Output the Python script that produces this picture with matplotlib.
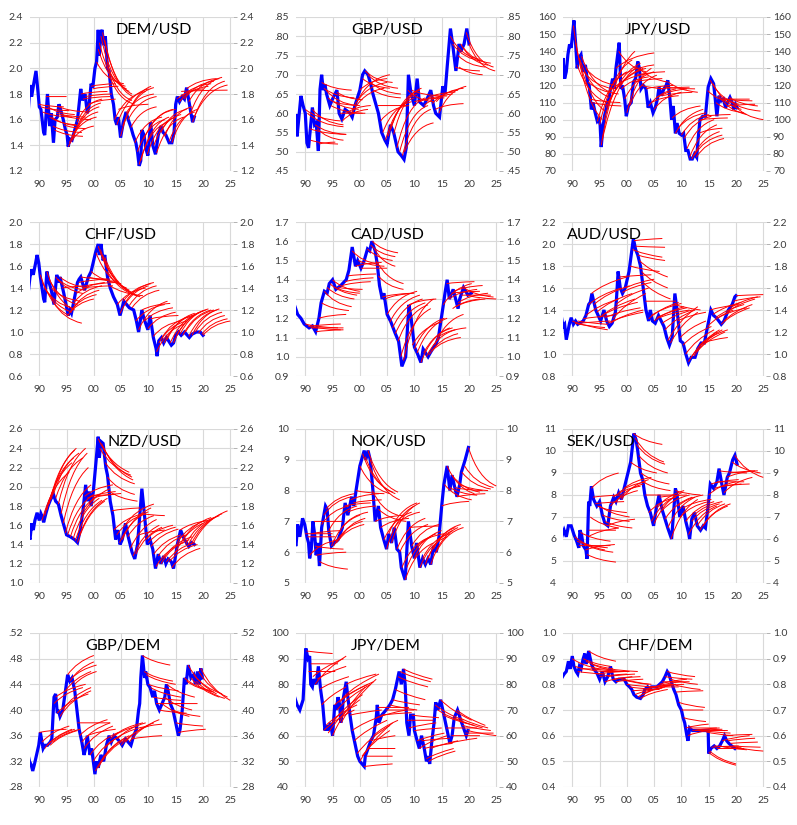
import numpy as np
import matplotlib.pyplot as plt
from matplotlib.path import Path
from matplotlib.patches import PathPatch

plt.rcParams['font.family'] = ['Lato', 'DejaVu Sans']

# ---- spot rates: (year, value) ----
dem_usd_spot = [(1988.0, 1.68), (1988.3, 1.87), (1988.6, 1.78), (1988.9, 1.86), (1989.4, 1.98), (1989.8, 1.80),
                (1990.0, 1.70), (1990.3, 1.68), (1990.8, 1.50), (1991.0, 1.48), (1991.5, 1.80), (1991.9, 1.55),
                (1992.2, 1.65), (1992.6, 1.42), (1992.9, 1.60), (1993.3, 1.62), (1993.6, 1.72), (1993.9, 1.68),
                (1994.4, 1.60), (1994.8, 1.52), (1995.1, 1.48), (1995.3, 1.39), (1995.6, 1.45), (1996.0, 1.44),
                (1996.5, 1.52), (1997.0, 1.60), (1997.6, 1.84), (1997.9, 1.75), (1998.4, 1.80), (1998.8, 1.65),
                (1999.1, 1.70), (1999.5, 1.88), (1999.8, 1.85), (2000.2, 2.00), (2000.5, 2.05), (2000.8, 2.30),
                (2001.0, 2.10), (2001.3, 2.28), (2001.5, 2.30), (2001.8, 2.18), (2002.1, 2.25), (2002.5, 2.00),
                (2002.8, 1.98), (2003.2, 1.80), (2003.6, 1.72), (2003.9, 1.60), (2004.2, 1.56), (2004.5, 1.62),
                (2004.9, 1.46), (2005.4, 1.58), (2005.9, 1.66), (2006.3, 1.60), (2006.8, 1.54), (2007.2, 1.48),
                (2007.7, 1.42), (2008.0, 1.35), (2008.3, 1.24), (2008.6, 1.28), (2008.8, 1.52), (2009.2, 1.48),
                (2009.5, 1.38), (2009.9, 1.32), (2010.4, 1.58), (2010.8, 1.40), (2011.3, 1.33), (2011.8, 1.48),
                (2012.3, 1.55), (2012.7, 1.50), (2013.2, 1.48), (2013.8, 1.42), (2014.3, 1.42), (2014.7, 1.50),
                (2015.0, 1.72), (2015.3, 1.78), (2015.7, 1.74), (2016.2, 1.78), (2016.6, 1.76), (2017.0, 1.85),
                (2017.4, 1.75), (2017.8, 1.65), (2018.1, 1.58), (2018.4, 1.62)]

gbp_usd_spot = [(1988.0, .558), (1988.3, .597), (1988.5, .540), (1989.2, .645), (1989.6, .620), (1990.0, .600),
                (1990.3, .523), (1990.6, .510), (1991.3, .615), (1991.7, .570), (1992.0, .575), (1992.4, .502),
                (1992.7, .662), (1993.0, .700), (1993.3, .660), (1993.6, .675), (1993.9, .650), (1994.5, .620),
                (1995.1, .640), (1995.8, .660), (1996.2, .600), (1996.7, .585), (1997.3, .610), (1998.2, .600),
                (1998.6, .590), (1999.1, .620), (2000.0, .660), (2000.5, .700), (2000.9, .710), (2001.5, .700),
                (2002.0, .675), (2002.4, .650), (2003.0, .620), (2003.4, .600), (2004.0, .550), (2004.6, .530),
                (2005.0, .520), (2005.6, .570), (2006.2, .550), (2007.0, .500), (2007.6, .490), (2008.1, .480),
                (2008.5, .510), (2008.9, .700), (2009.4, .650), (2010.0, .620), (2010.5, .690), (2010.9, .630),
                (2011.7, .620), (2012.4, .640), (2013.0, .660), (2013.5, .620), (2013.9, .600), (2014.6, .590),
                (2015.2, .670), (2015.6, .650), (2016.0, .720), (2016.6, .820), (2017.0, .780), (2017.6, .710),
                (2018.2, .780), (2018.5, .760), (2019.1, .780), (2019.6, .820), (2020.0, .780)]

jpy_usd_spot = [(1988.0, 125), (1988.3, 136), (1988.6, 124), (1988.9, 128), (1989.2, 138), (1989.5, 144),
                (1989.8, 142), (1990.0, 148), (1990.3, 158), (1990.6, 145), (1990.9, 130), (1991.2, 136),
                (1991.6, 138), (1992.0, 128), (1992.4, 132), (1992.8, 122), (1993.1, 120), (1993.5, 106),
                (1993.8, 110), (1994.2, 104), (1994.6, 99), (1994.9, 100), (1995.1, 97), (1995.3, 84),
                (1995.6, 95), (1995.9, 102), (1996.3, 108), (1996.7, 112), (1997.0, 118), (1997.4, 124),
                (1997.7, 118), (1998.0, 130), (1998.4, 140), (1998.6, 145), (1998.9, 118), (1999.2, 120),
                (1999.6, 112), (1999.9, 102), (2000.3, 108), (2000.8, 110), (2001.2, 122), (2001.6, 124),
                (2002.0, 134), (2002.3, 130), (2002.6, 118), (2003.0, 120), (2003.5, 118), (2003.9, 107),
                (2004.3, 110), (2004.8, 104), (2005.2, 107), (2005.6, 112), (2005.9, 119), (2006.3, 114),
                (2006.8, 118), (2007.2, 120), (2007.5, 123), (2007.9, 112), (2008.2, 100), (2008.5, 108),
                (2008.9, 92), (2009.2, 98), (2009.6, 92), (2010.0, 91), (2010.4, 92), (2010.8, 82),
                (2011.2, 82), (2011.6, 77), (2012.0, 77), (2012.4, 80), (2012.8, 78), (2013.1, 90),
                (2013.4, 100), (2013.9, 102), (2014.4, 102), (2014.9, 119), (2015.4, 124), (2015.9, 121),
                (2016.2, 112), (2016.5, 102), (2016.9, 114), (2017.3, 111), (2017.7, 112), (2018.1, 107),
                (2018.6, 111), (2018.9, 113), (2019.3, 110), (2019.6, 106), (2019.9, 109), (2020.2, 107)]

chf_usd_spot = [(1988.0, 1.37), (1988.3, 1.50), (1988.6, 1.57), (1988.9, 1.52), (1989.3, 1.62), (1989.6, 1.70),
                (1989.9, 1.63), (1990.2, 1.50), (1990.8, 1.30), (1991.0, 1.27), (1991.4, 1.55), (1991.8, 1.45),
                (1992.2, 1.38), (1992.7, 1.25), (1993.2, 1.52), (1993.5, 1.45), (1993.8, 1.50), (1994.5, 1.35),
                (1995.3, 1.15), (1995.6, 1.20), (1995.9, 1.17), (1996.3, 1.27), (1997.0, 1.45), (1997.3, 1.48),
                (1997.6, 1.50), (1998.3, 1.38), (1999.0, 1.50), (1999.5, 1.55), (2000.3, 1.72), (2000.8, 1.80),
                (2001.0, 1.70), (2001.3, 1.80), (2001.7, 1.65), (2002.0, 1.70), (2002.5, 1.50), (2003.0, 1.40),
                (2003.6, 1.32), (2004.3, 1.25), (2004.8, 1.15), (2005.5, 1.28), (2006.0, 1.25), (2006.5, 1.22),
                (2007.3, 1.20), (2007.8, 1.10), (2008.2, 1.00), (2008.8, 1.20), (2009.2, 1.12), (2009.9, 1.02),
                (2010.3, 1.15), (2010.9, 0.95), (2011.4, 0.85), (2011.6, 0.78), (2011.9, 0.92), (2012.4, 0.95),
                (2012.8, 0.90), (2013.3, 0.95), (2014.2, 0.88), (2014.6, 0.90), (2015.0, 0.97), (2015.5, 1.00),
                (2016.0, 0.97), (2016.6, 1.00), (2017.5, 0.95), (2018.0, 0.98), (2018.8, 1.00), (2019.5, 1.00),
                (2020.0, 0.97)]

cad_usd_spot = [(1988.0, 1.27), (1988.6, 1.22), (1989.2, 1.20), (1989.8, 1.17), (1990.7, 1.15), (1991.3, 1.16),
                (1991.9, 1.13), (1992.5, 1.20), (1992.9, 1.28), (1993.5, 1.34), (1994.0, 1.33), (1994.4, 1.38),
                (1995.0, 1.40), (1995.6, 1.35), (1996.5, 1.37), (1997.5, 1.40), (1998.0, 1.45), (1998.6, 1.57),
                (1999.2, 1.47), (1999.6, 1.50), (2000.2, 1.46), (2000.8, 1.50), (2001.4, 1.56), (2001.8, 1.55),
                (2002.2, 1.60), (2002.8, 1.55), (2003.2, 1.48), (2003.6, 1.37), (2004.1, 1.30), (2004.4, 1.33),
                (2005.0, 1.22), (2005.7, 1.18), (2006.5, 1.12), (2007.1, 1.08), (2007.7, 0.95), (2008.4, 1.00),
                (2009.0, 1.27), (2009.4, 1.20), (2010.0, 1.05), (2010.5, 1.02), (2011.2, 0.97), (2011.6, 1.04),
                (2012.5, 1.00), (2013.1, 1.03), (2014.0, 1.07), (2014.4, 1.10), (2015.3, 1.27), (2015.6, 1.33),
                (2016.0, 1.40), (2016.4, 1.30), (2017.1, 1.35), (2018.0, 1.25), (2018.3, 1.30), (2019.0, 1.36),
                (2019.8, 1.32), (2020.4, 1.33)]

aud_usd_spot = [(1987.8, 1.40), (1988.3, 1.25), (1988.6, 1.27), (1988.9, 1.13), (1989.5, 1.28), (1989.8, 1.33),
                (1990.2, 1.27), (1990.6, 1.30), (1991.0, 1.27), (1992.0, 1.30), (1992.5, 1.35), (1993.0, 1.45),
                (1993.3, 1.47), (1993.6, 1.55), (1994.3, 1.40), (1995.2, 1.30), (1995.8, 1.40), (1996.3, 1.30),
                (1996.8, 1.25), (1997.3, 1.28), (1997.9, 1.38), (1998.1, 1.50), (1998.4, 1.75), (1998.8, 1.60),
                (1999.2, 1.55), (1999.7, 1.60), (2000.4, 1.75), (2000.8, 1.90), (2001.2, 2.05), (2001.6, 1.95),
                (2002.0, 1.90), (2002.5, 1.80), (2003.0, 1.60), (2003.5, 1.40), (2004.0, 1.30), (2004.3, 1.40),
                (2004.7, 1.30), (2005.2, 1.28), (2005.8, 1.35), (2006.3, 1.30), (2006.8, 1.25), (2007.3, 1.15),
                (2007.8, 1.08), (2008.3, 1.15), (2008.8, 1.55), (2009.2, 1.40), (2009.8, 1.12), (2010.3, 1.10),
                (2010.8, 1.00), (2011.3, 0.92), (2011.8, 0.97), (2012.5, 0.97), (2013.0, 1.05), (2013.6, 1.10),
                (2014.2, 1.10), (2014.8, 1.25), (2015.4, 1.40), (2015.9, 1.35), (2016.4, 1.33), (2017.3, 1.27),
                (2017.8, 1.30), (2018.6, 1.40), (2019.3, 1.45), (2019.8, 1.52), (2020.0, 1.53)]

nzd_usd_spot = [(1988.0, 1.51), (1988.3, 1.45), (1988.6, 1.62), (1988.9, 1.55), (1989.2, 1.65), (1989.6, 1.73),
                (1990.0, 1.65), (1990.3, 1.72), (1990.6, 1.68), (1990.8, 1.63), (1991.2, 1.72), (1991.6, 1.80),
                (1992.1, 1.87), (1992.6, 1.92), (1993.0, 1.85), (1993.5, 1.82), (1994.0, 1.70), (1994.5, 1.60),
                (1995.0, 1.50), (1995.7, 1.48), (1996.5, 1.45), (1997.0, 1.42), (1997.5, 1.55), (1998.0, 1.75),
                (1998.5, 2.02), (1998.8, 1.85), (1999.2, 1.95), (1999.5, 1.80), (1999.9, 1.95), (2000.3, 2.20),
                (2000.8, 2.52), (2001.0, 2.30), (2001.3, 2.47), (2001.7, 2.45), (2002.2, 2.20), (2002.5, 2.12),
                (2003.0, 1.85), (2003.5, 1.70), (2004.0, 1.45), (2004.4, 1.55), (2004.8, 1.40), (2005.2, 1.45),
                (2005.8, 1.62), (2006.3, 1.48), (2007.0, 1.32), (2007.5, 1.25), (2008.0, 1.40), (2008.8, 1.98),
                (2009.2, 1.75), (2009.8, 1.40), (2010.3, 1.45), (2010.8, 1.35), (2011.3, 1.15), (2011.8, 1.30),
                (2012.3, 1.20), (2012.8, 1.28), (2013.2, 1.20), (2013.6, 1.25), (2014.2, 1.22), (2014.6, 1.15),
                (2015.3, 1.40), (2015.9, 1.55), (2016.6, 1.45), (2017.4, 1.38), (2017.9, 1.42), (2018.4, 1.40)]

nok_usd_spot = [(1988.0, 6.3), (1988.3, 6.2), (1988.6, 6.9), (1989.0, 6.5), (1989.5, 7.1), (1989.9, 6.9),
                (1990.3, 6.5), (1990.6, 6.3), (1990.8, 5.8), (1991.1, 6.1), (1991.4, 7.0), (1991.7, 6.6),
                (1992.0, 5.9), (1992.3, 6.3), (1992.6, 5.55), (1993.0, 6.8), (1993.7, 7.5), (1994.0, 7.4),
                (1994.3, 6.7), (1994.8, 6.2), (1995.3, 6.3), (1996.0, 6.4), (1996.8, 6.8), (1997.3, 7.6),
                (1997.8, 7.2), (1998.5, 7.8), (1998.9, 7.5), (1999.3, 8.0), (2000.0, 8.8), (2000.8, 9.3),
                (2001.1, 9.0), (2001.5, 9.3), (2001.9, 9.0), (2002.4, 8.0), (2002.8, 7.0), (2003.4, 7.5),
                (2003.8, 6.8), (2004.4, 6.4), (2004.9, 6.1), (2005.3, 6.6), (2005.8, 6.3), (2006.3, 6.8),
                (2006.8, 6.1), (2007.3, 6.0), (2007.6, 5.5), (2008.3, 5.1), (2008.5, 5.7), (2008.9, 7.0),
                (2009.5, 6.2), (2010.0, 5.8), (2010.4, 6.3), (2011.0, 5.5), (2011.5, 5.8), (2012.0, 5.6),
                (2012.5, 5.8), (2013.0, 5.6), (2013.5, 6.2), (2014.0, 6.0), (2014.5, 6.5), (2015.0, 7.5),
                (2015.4, 8.2), (2016.0, 8.8), (2016.5, 8.0), (2016.9, 8.5), (2017.4, 8.1), (2017.8, 7.8),
                (2018.3, 8.2), (2018.6, 8.6), (2019.3, 9.0), (2019.9, 9.4)]

sek_usd_spot = [(1987.8, 5.9), (1988.2, 6.2), (1988.5, 6.4), (1988.9, 6.1), (1989.3, 6.6), (1989.8, 6.6),
                (1990.3, 6.2), (1990.8, 5.9), (1991.2, 5.6), (1991.4, 6.4), (1991.7, 6.2), (1992.0, 5.7),
                (1992.5, 5.5), (1992.7, 5.1), (1993.0, 7.7), (1993.2, 7.5), (1993.5, 8.4), (1993.9, 7.8),
                (1994.5, 7.5), (1995.0, 7.7), (1995.5, 7.1), (1996.0, 6.7), (1996.5, 6.6), (1997.0, 7.5),
                (1997.6, 7.9), (1998.0, 7.7), (1998.5, 8.1), (1999.0, 7.8), (1999.5, 8.3), (2000.0, 8.8),
                (2000.7, 9.5), (2001.3, 10.8), (2001.7, 10.5), (2002.0, 10.0), (2002.5, 9.0), (2002.9, 8.7),
                (2003.3, 8.0), (2003.8, 7.5), (2004.3, 7.2), (2004.9, 6.6), (2005.4, 7.4), (2005.9, 8.0),
                (2006.5, 7.3), (2007.0, 6.9), (2007.5, 6.5), (2008.2, 6.0), (2008.9, 8.3), (2009.2, 8.0),
                (2009.7, 7.0), (2010.3, 7.5), (2010.8, 6.8), (2011.3, 6.3), (2011.5, 6.0), (2011.9, 6.9),
                (2012.4, 7.2), (2012.9, 6.6), (2013.5, 6.4), (2014.0, 6.6), (2014.4, 6.5), (2014.9, 7.5),
                (2015.3, 8.5), (2015.9, 8.3), (2016.5, 8.6), (2016.9, 9.2), (2017.4, 8.5), (2017.8, 8.0),
                (2018.4, 8.8), (2018.8, 9.0), (2019.4, 9.6), (2019.8, 9.8), (2020.2, 9.4)]

gbp_dem_spot = [(1987.8, .336), (1988.2, .320), (1988.5, .315), (1988.8, .305), (1989.1, .315), (1989.5, .330),
                (1989.9, .345), (1990.2, .365), (1990.5, .350), (1990.7, .340), (1991.0, .345), (1991.5, .345),
                (1992.0, .350), (1992.3, .355), (1992.7, .420), (1993.0, .425), (1993.3, .395), (1993.5, .400),
                (1993.8, .390), (1994.3, .400), (1994.8, .430), (1995.2, .455), (1995.6, .445), (1996.0, .450),
                (1996.5, .430), (1996.9, .400), (1997.3, .370), (1997.8, .350), (1998.2, .330), (1998.5, .340),
                (1998.8, .360), (1999.3, .330), (1999.6, .340), (1999.9, .320), (2000.2, .300), (2000.5, .320),
                (2000.8, .310), (2001.3, .330), (2001.8, .320), (2002.3, .345), (2002.8, .360), (2003.2, .350),
                (2003.7, .360), (2004.3, .355), (2004.8, .350), (2005.2, .345), (2005.8, .355), (2006.3, .350),
                (2006.8, .345), (2007.3, .360), (2007.8, .370), (2008.2, .400), (2008.4, .410), (2008.6, .450),
                (2008.9, .485), (2009.3, .450), (2009.5, .460), (2009.9, .440), (2010.3, .435), (2010.8, .420),
                (2011.1, .430), (2011.5, .410), (2012.0, .400), (2012.5, .410), (2013.0, .420), (2013.3, .440),
                (2013.6, .430), (2014.0, .410), (2014.5, .400), (2015.0, .380), (2015.5, .360), (2015.8, .370),
                (2016.2, .400), (2016.6, .450), (2016.9, .440), (2017.3, .470), (2017.8, .450), (2018.3, .455),
                (2018.6, .440), (2019.0, .460), (2019.3, .440), (2019.6, .465), (2019.9, .450)]

jpy_dem_spot = [(1987.9, 76), (1988.5, 72), (1989.0, 70), (1989.6, 74), (1990.1, 94), (1990.5, 90), (1990.8, 91),
                (1991.0, 80), (1991.3, 79), (1991.5, 82), (1992.0, 80), (1992.4, 87), (1992.8, 78), (1993.2, 72),
                (1993.6, 62), (1993.9, 64), (1994.2, 62), (1994.6, 65), (1995.0, 60), (1995.4, 72), (1995.7, 70),
                (1996.0, 75), (1996.3, 72), (1996.5, 65), (1996.8, 70), (1997.0, 75), (1997.5, 81), (1997.8, 75),
                (1998.2, 68), (1998.6, 62), (1999.0, 58), (1999.6, 52), (2000.0, 50), (2000.8, 48), (2001.0, 52),
                (2001.5, 55), (2002.0, 58), (2002.5, 60), (2003.0, 67), (2003.2, 72), (2003.5, 65), (2004.0, 68),
                (2004.8, 70), (2005.5, 72), (2006.0, 74), (2006.5, 78), (2007.2, 85), (2007.6, 80), (2008.0, 86),
                (2008.3, 80), (2008.6, 65), (2009.0, 60), (2009.3, 68), (2009.8, 68), (2010.0, 62), (2010.5, 58),
                (2010.9, 55), (2011.3, 60), (2011.8, 55), (2012.2, 50), (2012.5, 52), (2012.8, 49), (2013.2, 58),
                (2013.6, 65), (2013.9, 73), (2014.3, 70), (2014.8, 74), (2015.4, 68), (2016.0, 62), (2016.5, 57),
                (2016.9, 60), (2017.3, 67), (2017.9, 70), (2018.5, 66), (2019.0, 63), (2019.5, 60), (2019.8, 62)]

chf_dem_spot = [(1987.8, .815), (1988.5, .840), (1988.9, .850), (1989.3, .890), (1989.6, .860), (1990.0, .910),
                (1990.3, .870), (1990.7, .850), (1991.0, .840), (1991.3, .870), (1991.6, .860), (1992.0, .900),
                (1992.3, .920), (1992.5, .880), (1992.7, .890), (1993.0, .930), (1993.5, .880), (1993.9, .860),
                (1994.3, .850), (1994.6, .840), (1995.0, .820), (1995.5, .850), (1996.0, .810), (1996.5, .830),
                (1997.0, .870), (1997.5, .820), (1998.0, .810), (1998.5, .820), (1999.0, .820), (1999.5, .820),
                (2000.0, .800), (2000.5, .790), (2000.9, .780), (2001.3, .760), (2001.8, .750), (2002.5, .745),
                (2003.0, .760), (2003.3, .780), (2003.8, .790), (2004.1, .780), (2004.5, .790), (2005.0, .790),
                (2005.5, .790), (2006.0, .800), (2006.5, .810), (2007.0, .830), (2007.4, .850), (2007.7, .840),
                (2008.0, .820), (2008.3, .800), (2008.6, .780), (2009.0, .760), (2009.5, .720), (2010.0, .700),
                (2010.3, .670), (2010.6, .650), (2011.0, .600), (2011.2, .580), (2011.5, .630), (2012.0, .620),
                (2013.0, .620), (2014.0, .620), (2014.9, .620), (2015.0, .530), (2015.4, .550), (2016.0, .560),
                (2016.5, .550), (2017.0, .560), (2017.5, .580), (2017.9, .600), (2018.3, .580), (2018.7, .570),
                (2019.2, .560), (2019.8, .550)]

# ---- forward paths: (start year, start value, end year, end value) ----
dem_usd_fwd = [(1989.9, 1.72, 1994.5, 1.70), (1990.3, 1.70, 1995.5, 1.67), (1990.6, 1.66, 1996.0, 1.62),
               (1991.2, 1.78, 1995.0, 1.78), (1991.6, 1.70, 1996.5, 1.64), (1991.9, 1.62, 1996.8, 1.56),
               (1992.3, 1.62, 1997.5, 1.55), (1992.5, 1.55, 1997.8, 1.50), (1992.8, 1.52, 1998.0, 1.47),
               (1993.2, 1.65, 1998.5, 1.62), (1993.6, 1.70, 1999.0, 1.66), (1994.0, 1.64, 1999.5, 1.60),
               (1994.5, 1.56, 1998.5, 1.53), (1995.3, 1.39, 2000.0, 1.55), (1995.5, 1.42, 2000.5, 1.62),
               (1995.8, 1.44, 2000.8, 1.66), (1996.1, 1.45, 2001.0, 1.70), (1996.5, 1.50, 2001.3, 1.73),
               (1996.9, 1.58, 2001.5, 1.76), (1997.6, 1.80, 2002.5, 1.82), (1998.0, 1.76, 2003.0, 1.78),
               (1998.5, 1.78, 2003.3, 1.80), (1999.0, 1.72, 2004.0, 1.76), (1999.5, 1.86, 2004.0, 1.88),
               (1999.8, 1.84, 2004.5, 1.86), (2000.5, 2.05, 2005.5, 1.88), (2000.8, 2.15, 2005.8, 1.86),
               (2001.0, 2.20, 2006.0, 1.84), (2001.3, 2.25, 2006.5, 1.82), (2001.6, 2.28, 2007.0, 1.80),
               (2002.0, 2.22, 2007.2, 1.78), (2002.4, 2.05, 2007.0, 1.75), (2002.8, 1.95, 2007.5, 1.72),
               (2003.8, 1.60, 2009.5, 1.82), (2004.2, 1.56, 2010.0, 1.84), (2004.9, 1.47, 2010.5, 1.86),
               (2005.3, 1.55, 2011.0, 1.85), (2005.9, 1.65, 2011.0, 1.80), (2006.3, 1.60, 2011.5, 1.78),
               (2004.5, 1.68, 2010.0, 1.72), (2006.8, 1.54, 2011.5, 1.70), (2007.5, 1.42, 2012.5, 1.62),
               (2008.0, 1.35, 2013.0, 1.60), (2008.3, 1.25, 2013.5, 1.58), (2008.6, 1.28, 2013.8, 1.62),
               (2009.2, 1.45, 2014.5, 1.68), (2009.8, 1.33, 2015.0, 1.62), (2010.4, 1.55, 2015.0, 1.68),
               (2011.0, 1.40, 2016.0, 1.64), (2011.5, 1.34, 2016.5, 1.62), (2012.3, 1.50, 2017.0, 1.68),
               (2013.0, 1.47, 2018.0, 1.70), (2013.8, 1.43, 2018.5, 1.66), (2014.3, 1.42, 2019.0, 1.68),
               (2015.2, 1.76, 2020.0, 1.84), (2015.7, 1.74, 2021.0, 1.86), (2016.2, 1.78, 2021.5, 1.88),
               (2016.6, 1.76, 2022.0, 1.90), (2017.0, 1.84, 2022.5, 1.92), (2017.4, 1.74, 2023.0, 1.92),
               (2017.8, 1.66, 2023.5, 1.93), (2018.1, 1.58, 2024.0, 1.90), (2018.4, 1.62, 2024.5, 1.87),
               (2016.0, 1.82, 2024.5, 1.83)]

gbp_usd_fwd = [(1990.0, .61, 1996.5, .58), (1990.4, .60, 1997.0, .565), (1990.8, .56, 1997.5, .545),
               (1991.0, .53, 1996.0, .52), (1991.3, .61, 1997.0, .57), (1991.8, .57, 1997.5, .545),
               (1992.2, .56, 1997.0, .53), (1992.5, .52, 1995.5, .525), (1993.0, .68, 1998.5, .66),
               (1993.4, .665, 1999.0, .64), (1993.8, .66, 1999.5, .62), (1994.2, .64, 1999.8, .61),
               (1994.7, .62, 2000.5, .60), (1995.2, .63, 2000.0, .62), (1995.8, .655, 2000.5, .635),
               (1996.3, .60, 2001.0, .60), (1996.8, .58, 2001.5, .61), (1997.5, .60, 2002.0, .62),
               (1998.5, .60, 2004.5, .665), (1999.0, .62, 2005.0, .68), (1999.5, .63, 2005.5, .70),
               (2000.0, .66, 2005.0, .69), (2000.5, .69, 2005.5, .665), (2001.0, .71, 2006.0, .68),
               (2001.5, .70, 2007.0, .665), (2002.0, .68, 2007.5, .65), (2002.5, .66, 2007.5, .64),
               (2003.3, .62, 2008.5, .62), (2003.8, .58, 2009.0, .62), (2004.2, .55, 2009.5, .63),
               (2004.7, .53, 2010.0, .64), (2005.2, .54, 2010.5, .65), (2005.7, .56, 2011.0, .66),
               (2006.2, .545, 2011.3, .665), (2006.8, .51, 2012.0, .64), (2007.3, .50, 2012.5, .62),
               (2007.8, .49, 2013.0, .61), (2008.2, .50, 2013.5, .575), (2008.8, .66, 2013.5, .63),
               (2009.5, .66, 2015.0, .645), (2010.0, .63, 2015.5, .64), (2011.0, .63, 2016.0, .645),
               (2011.8, .62, 2017.0, .65), (2012.5, .64, 2017.5, .655), (2013.3, .625, 2018.0, .66),
               (2014.0, .63, 2019.0, .665), (2014.5, .60, 2019.5, .67), (2013.8, .61, 2019.0, .625),
               (2016.6, .80, 2022.0, .74), (2017.0, .78, 2022.5, .735), (2017.5, .72, 2022.0, .71),
               (2018.0, .75, 2023.0, .72), (2018.5, .78, 2023.5, .725), (2019.0, .77, 2024.0, .73),
               (2019.5, .81, 2024.5, .72), (2020.0, .78, 2024.8, .71), (2018.2, .72, 2022.5, .70)]

jpy_usd_fwd = [(1990.2, 155, 1995.5, 100), (1990.6, 145, 1996.0, 105), (1990.9, 132, 1996.3, 110),
               (1991.3, 136, 1996.8, 113), (1991.7, 137, 1997.0, 116), (1992.1, 128, 1997.5, 118),
               (1992.5, 130, 1998.0, 120), (1992.9, 122, 1998.5, 115), (1993.3, 112, 1998.8, 110),
               (1993.7, 110, 1999.0, 108), (1994.6, 99, 2000.0, 128), (1995.0, 97, 2001.0, 135),
               (1995.3, 85, 2001.5, 140), (1995.5, 88, 2002.0, 131), (1995.8, 100, 2002.5, 133),
               (1996.2, 107, 2003.0, 130), (1996.6, 110, 2003.5, 130), (1997.0, 117, 2004.0, 127),
               (1997.5, 122, 2005.0, 132), (1998.0, 130, 2005.0, 139), (1998.5, 140, 2003.5, 128),
               (1999.0, 118, 2004.0, 125), (1999.6, 112, 2005.0, 128), (2000.0, 104, 2004.5, 130),
               (2000.5, 108, 2005.5, 126), (2001.3, 122, 2006.5, 124), (2001.8, 126, 2007.0, 128),
               (2002.3, 130, 2007.5, 122), (2002.8, 120, 2007.0, 118), (2003.5, 118, 2008.5, 120),
               (2004.0, 108, 2009.0, 118), (2004.5, 110, 2009.5, 114), (2005.0, 106, 2010.0, 116),
               (2005.6, 113, 2011.0, 118), (2006.0, 118, 2011.5, 119), (2006.5, 114, 2012.0, 116),
               (2007.0, 119, 2012.5, 118), (2007.6, 122, 2013.0, 116), (2008.3, 101, 2013.5, 108),
               (2008.9, 92, 2014.0, 106), (2009.4, 95, 2014.5, 104), (2010.0, 91, 2015.0, 103),
               (2010.5, 89, 2015.5, 102), (2011.0, 83, 2016.0, 100), (2011.5, 78, 2016.5, 97),
               (2011.9, 77, 2017.0, 93), (2012.3, 79, 2017.5, 91), (2012.7, 78, 2017.8, 89),
               (2013.2, 92, 2017.5, 95), (2013.5, 100, 2018.5, 101), (2014.0, 102, 2019.0, 103),
               (2014.8, 117, 2019.5, 110), (2015.3, 123, 2020.5, 109), (2015.8, 121, 2021.0, 106),
               (2016.3, 110, 2021.5, 104), (2016.8, 114, 2022.0, 103), (2017.3, 112, 2022.5, 112),
               (2017.8, 112, 2023.0, 111), (2018.3, 108, 2023.5, 109), (2018.8, 113, 2024.0, 108),
               (2019.3, 110, 2024.5, 105), (2019.8, 108, 2025.0, 100)]

chf_usd_fwd = [(1990.2, 1.52, 1995.5, 1.15), (1990.6, 1.45, 1996.0, 1.18), (1991.0, 1.40, 1996.0, 1.22),
               (1991.4, 1.55, 1996.5, 1.20), (1991.8, 1.48, 1997.0, 1.25), (1992.2, 1.40, 1997.5, 1.28),
               (1992.6, 1.27, 1997.8, 1.08), (1993.0, 1.50, 1998.0, 1.35), (1993.4, 1.48, 1998.5, 1.38),
               (1993.8, 1.50, 1999.0, 1.40), (1994.2, 1.40, 1999.0, 1.42), (1995.2, 1.15, 2000.0, 1.30),
               (1995.6, 1.18, 2000.5, 1.34), (1996.0, 1.20, 2001.0, 1.38), (1996.4, 1.27, 2001.5, 1.42),
               (1996.8, 1.35, 2002.0, 1.45), (1997.2, 1.45, 2002.5, 1.48), (1997.6, 1.50, 2003.0, 1.48),
               (1998.0, 1.40, 2003.5, 1.42), (1998.5, 1.42, 2004.0, 1.45), (1999.0, 1.50, 2004.5, 1.46),
               (1999.5, 1.55, 2005.0, 1.44), (2000.4, 1.72, 2006.0, 1.40), (2000.8, 1.78, 2006.5, 1.38),
               (2001.2, 1.75, 2007.0, 1.36), (2001.6, 1.70, 2007.5, 1.34), (2002.0, 1.68, 2008.0, 1.33),
               (2002.5, 1.55, 2008.5, 1.32), (2003.0, 1.42, 2009.0, 1.33), (2004.3, 1.25, 2009.5, 1.40),
               (2004.8, 1.17, 2010.0, 1.42), (2005.4, 1.28, 2010.5, 1.44), (2005.9, 1.28, 2011.0, 1.45),
               (2006.5, 1.24, 2011.5, 1.42), (2007.0, 1.22, 2012.0, 1.38), (2007.7, 1.10, 2013.0, 1.25),
               (2008.2, 1.02, 2013.5, 1.28), (2008.8, 1.20, 2014.0, 1.26), (2009.3, 1.10, 2014.5, 1.22),
               (2009.9, 1.03, 2015.0, 1.18), (2010.4, 1.12, 2015.5, 1.15), (2010.9, 0.96, 2016.0, 1.10),
               (2011.5, 0.82, 2016.5, 1.07), (2011.9, 0.90, 2017.0, 1.10), (2012.4, 0.94, 2017.5, 1.14),
               (2012.9, 0.90, 2018.0, 1.15), (2013.4, 0.93, 2018.5, 1.17), (2014.0, 0.90, 2019.5, 1.18),
               (2014.6, 0.90, 2020.0, 1.19), (2015.2, 0.97, 2020.5, 1.20), (2015.8, 0.98, 2021.0, 1.21),
               (2016.3, 0.97, 2021.5, 1.20), (2016.8, 1.00, 2022.0, 1.20), (2017.4, 0.96, 2022.5, 1.20),
               (2018.0, 0.97, 2023.0, 1.21), (2018.6, 1.00, 2023.5, 1.18), (2019.2, 0.99, 2024.0, 1.15),
               (2019.8, 0.98, 2024.5, 1.12), (2020.0, 0.97, 2025.0, 1.10)]

cad_usd_fwd = [(1990.0, 1.17, 1996.0, 1.15), (1990.5, 1.16, 1996.5, 1.14), (1991.0, 1.15, 1997.0, 1.15),
               (1991.5, 1.16, 1996.5, 1.17), (1992.0, 1.13, 1997.0, 1.14), (1992.5, 1.20, 1997.5, 1.22),
               (1993.0, 1.28, 1998.0, 1.24), (1993.5, 1.34, 1998.5, 1.26), (1994.0, 1.36, 1999.0, 1.30),
               (1994.5, 1.38, 1999.5, 1.32), (1995.0, 1.40, 2000.0, 1.34), (1995.5, 1.36, 2000.0, 1.33),
               (1996.0, 1.36, 2000.5, 1.35), (1996.8, 1.37, 2002.0, 1.39), (1997.3, 1.39, 2002.5, 1.41),
               (1997.8, 1.42, 2003.0, 1.43), (1998.6, 1.55, 2003.5, 1.48), (1999.2, 1.47, 2004.0, 1.49),
               (1999.7, 1.50, 2004.5, 1.47), (2000.2, 1.46, 2005.0, 1.46), (2001.4, 1.56, 2006.0, 1.50),
               (2002.0, 1.58, 2006.5, 1.52), (2002.3, 1.60, 2007.0, 1.54), (2002.7, 1.56, 2006.5, 1.47),
               (2003.0, 1.50, 2008.0, 1.38), (2003.4, 1.42, 2008.0, 1.35), (2004.1, 1.31, 2009.5, 1.33),
               (2004.6, 1.30, 2010.0, 1.33), (2005.0, 1.22, 2010.5, 1.34), (2005.5, 1.18, 2011.0, 1.32),
               (2006.0, 1.15, 2011.5, 1.30), (2006.5, 1.12, 2012.0, 1.28), (2007.0, 1.08, 2012.5, 1.27),
               (2007.5, 1.00, 2013.0, 1.25), (2008.0, 0.98, 2013.5, 1.30), (2009.0, 1.27, 2014.0, 1.30),
               (2009.6, 1.06, 2015.0, 1.18), (2010.0, 1.04, 2015.5, 1.20), (2010.5, 1.02, 2016.0, 1.20),
               (2011.2, 0.97, 2016.5, 1.15), (2011.7, 1.02, 2017.0, 1.15), (2012.2, 1.00, 2017.5, 1.14),
               (2012.7, 1.01, 2018.0, 1.12), (2013.2, 1.03, 2018.5, 1.10), (2013.7, 1.06, 2019.0, 1.22),
               (2014.2, 1.10, 2019.5, 1.15), (2015.3, 1.27, 2020.5, 1.38), (2015.9, 1.38, 2021.0, 1.39),
               (2016.4, 1.30, 2021.5, 1.35), (2016.8, 1.33, 2022.0, 1.34), (2017.2, 1.34, 2022.5, 1.37),
               (2017.6, 1.26, 2023.0, 1.30), (2018.0, 1.28, 2023.5, 1.33), (2018.6, 1.32, 2024.0, 1.32),
               (2019.0, 1.36, 2024.5, 1.31), (2019.6, 1.32, 2025.0, 1.30), (2017.0, 1.25, 2022.0, 1.30)]

aud_usd_fwd = [(1990.0, 1.30, 1996.5, 1.22), (1990.5, 1.28, 1996.0, 1.24), (1991.0, 1.30, 1996.5, 1.27),
               (1991.5, 1.28, 1997.0, 1.30), (1992.0, 1.32, 1997.5, 1.35), (1992.5, 1.35, 1998.5, 1.50),
               (1993.0, 1.45, 1999.0, 1.60), (1993.5, 1.55, 2000.0, 1.70), (1994.0, 1.45, 2000.5, 1.62),
               (1994.5, 1.38, 2001.0, 1.55), (1995.0, 1.33, 2001.5, 1.50), (1995.5, 1.35, 2002.0, 1.47),
               (1996.0, 1.33, 2002.5, 1.42), (1996.5, 1.28, 2003.0, 1.38), (1997.0, 1.28, 2003.0, 1.40),
               (1997.5, 1.32, 2003.5, 1.55), (1998.0, 1.45, 2004.0, 1.60), (1998.6, 1.70, 2004.5, 1.72),
               (1999.2, 1.56, 2004.5, 1.65), (1999.8, 1.60, 2005.0, 1.68), (2000.6, 1.80, 2006.0, 1.75),
               (2001.0, 1.95, 2006.5, 1.88), (2001.3, 2.03, 2006.5, 2.05), (2001.6, 1.98, 2007.0, 1.97),
               (2002.0, 1.90, 2007.0, 1.85), (2002.3, 1.85, 2007.5, 1.70), (2002.7, 1.75, 2007.5, 1.60),
               (2003.0, 1.65, 2008.0, 1.50), (2003.4, 1.48, 2009.0, 1.48), (2004.0, 1.32, 2009.5, 1.47),
               (2004.5, 1.35, 2010.0, 1.46), (2005.0, 1.30, 2010.5, 1.43), (2005.5, 1.33, 2011.0, 1.42),
               (2006.0, 1.33, 2011.5, 1.40), (2006.5, 1.28, 2012.0, 1.40), (2007.0, 1.22, 2012.5, 1.40),
               (2007.5, 1.12, 2013.0, 1.43), (2008.0, 1.10, 2013.0, 1.38), (2008.8, 1.45, 2013.5, 1.40),
               (2009.3, 1.30, 2014.5, 1.38), (2009.8, 1.15, 2014.5, 1.30), (2010.3, 1.08, 2015.5, 1.25),
               (2010.8, 1.00, 2016.0, 1.22), (2011.3, 0.93, 2016.5, 1.20), (2011.8, 0.97, 2017.0, 1.22),
               (2012.3, 0.98, 2017.5, 1.22), (2012.8, 1.02, 2018.0, 1.20), (2013.3, 1.08, 2018.5, 1.22),
               (2013.8, 1.10, 2018.5, 1.15), (2014.8, 1.25, 2019.5, 1.40), (2015.3, 1.40, 2020.5, 1.45),
               (2015.8, 1.36, 2021.0, 1.47), (2016.3, 1.33, 2021.5, 1.45), (2016.8, 1.33, 2022.0, 1.42),
               (2017.3, 1.27, 2022.5, 1.42), (2017.8, 1.30, 2023.0, 1.45), (2018.4, 1.38, 2023.5, 1.50),
               (2019.0, 1.42, 2024.0, 1.52), (2019.5, 1.48, 2024.5, 1.52), (2020.0, 1.53, 2025.0, 1.54)]

nzd_usd_fwd = [(1990.5, 1.65, 1995.5, 2.15), (1991.0, 1.70, 1996.0, 2.25), (1991.4, 1.76, 1996.3, 2.30),
               (1991.8, 1.82, 1996.5, 2.38), (1992.2, 1.87, 1996.8, 2.40), (1992.6, 1.92, 1997.3, 2.35),
               (1993.0, 1.88, 1998.0, 2.30), (1993.5, 1.82, 1998.5, 2.40), (1994.0, 1.72, 1998.8, 2.35),
               (1994.4, 1.62, 1999.0, 2.20), (1994.8, 1.52, 1999.5, 2.02), (1995.2, 1.50, 2000.0, 1.92),
               (1995.7, 1.48, 2000.5, 1.90), (1996.2, 1.46, 2001.0, 1.88), (1996.6, 1.44, 2001.5, 1.86),
               (1997.0, 1.42, 2002.0, 1.85), (1997.4, 1.50, 2002.5, 1.88), (1997.8, 1.70, 2003.0, 1.98),
               (1998.3, 1.90, 2003.5, 2.02), (1998.8, 1.88, 2004.0, 1.95), (1999.3, 1.90, 2004.0, 1.92),
               (1999.7, 1.88, 2005.0, 1.93), (2000.8, 2.50, 2006.5, 2.15), (2001.1, 2.40, 2006.8, 2.12),
               (2001.4, 2.45, 2007.0, 2.10), (2001.7, 2.42, 2007.2, 2.07), (2002.1, 2.25, 2007.5, 2.03),
               (2002.5, 2.10, 2007.5, 1.92), (2002.9, 1.95, 2008.0, 1.85), (2003.3, 1.75, 2008.5, 1.78),
               (2003.7, 1.55, 2009.0, 1.72), (2004.2, 1.50, 2009.5, 1.72), (2004.7, 1.42, 2010.0, 1.74),
               (2005.2, 1.45, 2010.5, 1.78), (2005.7, 1.60, 2011.0, 1.82), (2006.2, 1.48, 2011.0, 1.70),
               (2006.7, 1.36, 2011.5, 1.66), (2007.2, 1.28, 2012.0, 1.60), (2007.7, 1.30, 2012.5, 1.58),
               (2008.3, 1.50, 2013.0, 1.55), (2008.9, 1.72, 2013.0, 1.70), (2009.5, 1.45, 2014.5, 1.60),
               (2010.0, 1.42, 2015.0, 1.58), (2010.5, 1.38, 2015.5, 1.56), (2011.0, 1.30, 2016.0, 1.50),
               (2011.4, 1.17, 2016.5, 1.42), (2011.8, 1.28, 2017.0, 1.50), (2012.3, 1.20, 2017.5, 1.45),
               (2012.8, 1.26, 2018.0, 1.48), (2013.3, 1.22, 2018.5, 1.42), (2013.8, 1.22, 2019.0, 1.40),
               (2014.3, 1.16, 2019.5, 1.36), (2014.8, 1.30, 2020.0, 1.62), (2015.3, 1.42, 2020.5, 1.65),
               (2015.8, 1.55, 2021.0, 1.65), (2016.3, 1.45, 2021.5, 1.68), (2016.8, 1.40, 2022.0, 1.68),
               (2017.3, 1.40, 2023.0, 1.70), (2017.8, 1.40, 2023.5, 1.72), (2018.3, 1.42, 2024.5, 1.75)]

nok_usd_fwd = [(1990.0, 6.6, 1995.0, 6.6), (1990.4, 6.5, 1995.5, 6.5), (1990.8, 5.9, 1996.0, 6.4),
               (1991.2, 6.6, 1996.5, 6.7), (1991.6, 7.0, 1996.8, 7.0), (1991.8, 6.2, 1997.0, 6.1),
               (1992.0, 5.9, 1997.5, 6.0), (1992.6, 5.7, 1997.8, 5.45), (1993.0, 6.9, 1998.0, 7.5),
               (1993.4, 7.2, 1998.5, 7.8), (1993.8, 7.4, 1999.0, 7.9), (1994.3, 6.7, 1999.5, 7.5),
               (1994.8, 6.2, 2000.0, 7.2), (1995.2, 6.2, 2000.5, 7.0), (1995.7, 6.3, 2000.8, 6.9),
               (1996.2, 6.4, 2001.0, 7.1), (1996.7, 6.8, 2001.5, 7.3), (1997.2, 7.5, 2002.0, 7.6),
               (1997.8, 7.3, 2003.0, 7.5), (1998.3, 7.7, 2003.5, 7.9), (1998.8, 7.6, 2004.0, 7.7),
               (1999.3, 8.0, 2004.5, 7.9), (2000.0, 8.8, 2005.5, 7.9), (2000.5, 9.2, 2006.0, 7.95),
               (2001.0, 9.1, 2006.5, 7.9), (2001.5, 9.3, 2007.0, 7.95), (2001.9, 9.0, 2007.3, 7.7),
               (2002.3, 8.0, 2007.0, 7.2), (2002.8, 7.0, 2008.0, 7.2), (2003.4, 7.4, 2008.5, 7.0),
               (2003.8, 6.8, 2009.0, 7.1), (2004.4, 6.4, 2009.5, 7.3), (2004.9, 6.1, 2010.0, 7.5),
               (2005.3, 6.6, 2010.5, 7.6), (2005.8, 6.3, 2011.0, 7.6), (2006.3, 6.8, 2011.0, 7.3),
               (2006.8, 6.1, 2012.0, 7.1), (2007.3, 6.0, 2012.5, 6.9), (2007.7, 5.5, 2013.0, 6.5),
               (2008.3, 5.1, 2013.5, 6.3), (2008.6, 5.5, 2014.0, 6.6), (2009.0, 6.8, 2014.5, 6.85),
               (2009.5, 6.2, 2014.5, 6.9), (2010.0, 5.8, 2015.0, 6.7), (2010.5, 6.2, 2015.5, 6.6),
               (2011.0, 5.5, 2016.0, 6.5), (2011.5, 5.8, 2016.5, 6.6), (2012.0, 5.6, 2017.0, 6.7),
               (2012.5, 5.8, 2017.5, 6.8), (2013.0, 5.6, 2018.0, 6.8), (2013.5, 6.1, 2018.5, 6.9),
               (2014.0, 6.0, 2019.0, 6.8), (2015.0, 7.5, 2020.0, 7.65), (2015.5, 8.2, 2020.5, 7.7),
               (2016.0, 8.8, 2021.0, 7.9), (2016.5, 8.1, 2021.5, 7.85), (2016.9, 8.5, 2022.0, 7.95),
               (2017.4, 8.1, 2022.5, 8.0), (2017.8, 7.8, 2023.0, 7.9), (2018.3, 8.2, 2023.5, 8.0),
               (2018.7, 8.6, 2024.0, 8.05), (2019.2, 8.8, 2024.5, 8.1), (2019.9, 9.4, 2025.0, 8.15)]

sek_usd_fwd = [(1990.5, 6.1, 1996.0, 5.5), (1990.9, 5.9, 1996.5, 5.6), (1991.2, 5.7, 1997.0, 5.7),
               (1991.5, 6.3, 1997.0, 5.9), (1992.0, 5.8, 1997.5, 5.4), (1992.4, 5.5, 1997.8, 5.75),
               (1992.7, 5.3, 1998.0, 4.95), (1992.9, 6.1, 1998.5, 6.5), (1993.0, 6.4, 1998.0, 6.4),
               (1993.5, 8.3, 1998.5, 9.0), (1993.8, 7.9, 1999.0, 8.0), (1994.2, 7.6, 1999.5, 7.7),
               (1994.6, 7.5, 2000.0, 7.2), (1995.0, 7.5, 2000.5, 7.0), (1995.5, 7.1, 2000.5, 6.8),
               (1996.0, 6.8, 2001.0, 6.5), (1996.4, 6.6, 2001.5, 6.9), (1993.3, 7.0, 1998.5, 6.5),
               (1997.0, 7.5, 2002.0, 8.2), (1997.5, 7.9, 2002.5, 8.4), (1998.0, 7.7, 2003.0, 8.5),
               (1998.5, 8.1, 2003.5, 8.6), (1999.0, 7.8, 2004.0, 8.7), (1999.5, 8.3, 2004.5, 8.8),
               (2000.7, 9.5, 2005.5, 9.0), (2001.2, 10.8, 2006.5, 10.3), (2001.5, 10.6, 2006.8, 9.5),
               (2001.8, 10.3, 2007.0, 9.4), (2002.2, 9.8, 2007.5, 9.0), (2002.6, 9.0, 2007.8, 8.5),
               (2003.0, 8.6, 2008.0, 8.2), (2003.4, 8.0, 2008.5, 8.0), (2004.0, 7.2, 2009.0, 7.9),
               (2004.5, 6.8, 2009.5, 8.0), (2005.0, 6.7, 2010.0, 8.1), (2005.5, 7.4, 2010.5, 8.2),
               (2006.0, 7.9, 2011.0, 8.0), (2006.5, 7.3, 2011.5, 8.0), (2007.0, 6.9, 2012.0, 7.9),
               (2007.5, 6.5, 2012.5, 7.9), (2008.1, 6.0, 2013.0, 7.8), (2008.9, 8.2, 2013.5, 8.0),
               (2009.4, 7.5, 2014.0, 8.0), (2009.8, 7.0, 2015.0, 7.7), (2010.3, 7.4, 2015.5, 7.8),
               (2010.8, 6.8, 2016.0, 7.7), (2011.3, 6.2, 2016.5, 7.5), (2011.9, 6.8, 2017.0, 7.6),
               (2012.4, 7.1, 2017.5, 7.7), (2012.9, 6.6, 2018.0, 7.6), (2013.4, 6.4, 2018.5, 7.5),
               (2014.0, 6.6, 2019.0, 7.6), (2015.0, 8.0, 2020.0, 8.6), (2015.4, 8.5, 2020.5, 8.7),
               (2016.0, 8.3, 2021.0, 8.5), (2016.5, 8.6, 2021.5, 8.6), (2016.9, 9.1, 2022.0, 9.0),
               (2017.4, 8.4, 2022.5, 8.5), (2017.8, 8.1, 2023.0, 8.8), (2018.3, 8.8, 2023.5, 9.1),
               (2018.8, 9.0, 2024.0, 9.1), (2019.3, 9.5, 2024.5, 9.0), (2019.8, 9.8, 2025.0, 8.8)]

gbp_dem_fwd = [(1990.0, .365, 1995.0, .370), (1990.5, .350, 1995.5, .375), (1991.0, .340, 1996.0, .370),
               (1991.5, .345, 1996.5, .370), (1992.0, .345, 1997.0, .368), (1992.4, .350, 1997.5, .370),
               (1992.7, .410, 1998.0, .435), (1993.0, .420, 1998.5, .440), (1993.3, .395, 1999.0, .425),
               (1993.8, .390, 1999.5, .430), (1994.3, .400, 1999.5, .435), (1994.8, .430, 1999.5, .460),
               (1995.2, .455, 2000.0, .485), (1995.6, .445, 2000.0, .475), (1996.0, .450, 2000.5, .470),
               (1996.5, .440, 2000.5, .460), (1997.0, .380, 2003.0, .380), (1997.4, .360, 2002.5, .385),
               (1997.8, .350, 2003.0, .380), (1998.2, .340, 2003.5, .375), (1998.8, .360, 2004.0, .370),
               (1999.3, .330, 2004.5, .365), (1999.9, .320, 2005.0, .360), (2000.3, .305, 2005.5, .355),
               (2000.8, .310, 2006.0, .355), (2001.3, .320, 2006.5, .360), (2002.0, .340, 2007.5, .370),
               (2003.0, .355, 2008.0, .375), (2003.7, .360, 2009.0, .380), (2004.3, .355, 2009.5, .380),
               (2005.0, .345, 2010.0, .375), (2005.8, .350, 2011.0, .380), (2006.5, .350, 2012.0, .385),
               (2007.0, .355, 2012.5, .360), (2007.5, .370, 2012.5, .378), (2008.9, .485, 2014.0, .470),
               (2009.2, .460, 2014.5, .445), (2009.6, .455, 2015.0, .440), (2010.0, .440, 2015.5, .430),
               (2010.4, .435, 2016.0, .420), (2010.9, .420, 2016.0, .415), (2011.4, .410, 2016.5, .410),
               (2012.0, .400, 2017.0, .395), (2012.5, .410, 2017.5, .390), (2013.0, .420, 2018.0, .400),
               (2013.4, .440, 2018.5, .420), (2014.0, .410, 2019.0, .410), (2014.5, .400, 2019.5, .390),
               (2015.0, .380, 2020.0, .375), (2015.5, .365, 2020.5, .370), (2016.6, .450, 2021.5, .430),
               (2017.0, .445, 2022.0, .428), (2017.3, .470, 2022.5, .425), (2017.8, .450, 2023.0, .420),
               (2018.3, .455, 2023.5, .425), (2018.8, .445, 2024.0, .418), (2019.2, .460, 2024.5, .420),
               (2019.6, .465, 2025.0, .415)]

jpy_dem_fwd = [(1990.2, 93, 1995.0, 92), (1990.6, 85, 1995.5, 85), (1991.0, 88, 1996.0, 88),
               (1991.4, 83, 1997.0, 90), (1991.8, 80, 1997.5, 91), (1992.2, 82, 1997.5, 87),
               (1992.6, 78, 1998.0, 83), (1993.0, 72, 1997.5, 79), (1993.4, 62, 1999.0, 70),
               (1993.8, 64, 1999.5, 72), (1994.2, 61, 2000.0, 74), (1994.6, 64, 2000.5, 76),
               (1995.0, 60, 2001.0, 79), (1995.4, 72, 2001.5, 80), (1995.8, 70, 2002.0, 80),
               (1996.2, 73, 2002.5, 81), (1996.6, 65, 2003.0, 82), (1997.0, 75, 2003.5, 84),
               (1997.5, 80, 2003.0, 84), (1998.2, 68, 2004.0, 70), (1998.6, 62, 2004.5, 68),
               (1999.0, 58, 2005.0, 66), (1999.5, 53, 2005.5, 64), (2000.0, 50, 2006.0, 65),
               (2000.4, 52, 2005.5, 62), (2000.8, 48, 2006.0, 49), (2001.2, 52, 2006.0, 52),
               (2001.6, 55, 2006.5, 55), (2002.0, 58, 2006.5, 60), (2002.5, 60, 2007.0, 66),
               (2003.0, 67, 2008.5, 70), (2003.3, 71, 2009.0, 71), (2004.0, 68, 2009.5, 69),
               (2004.8, 70, 2010.0, 70), (2005.5, 72, 2010.5, 70), (2006.0, 74, 2011.0, 72),
               (2006.5, 78, 2012.0, 74), (2007.0, 83, 2012.5, 79), (2007.4, 85, 2013.0, 81),
               (2008.0, 86, 2013.3, 82), (2008.6, 66, 2013.5, 66), (2009.0, 63, 2014.0, 65),
               (2009.5, 68, 2014.5, 67), (2010.0, 62, 2015.0, 63), (2010.5, 58, 2015.5, 61),
               (2010.9, 55, 2016.0, 60), (2011.3, 58, 2016.5, 59), (2011.8, 55, 2017.0, 57),
               (2012.2, 51, 2017.2, 55), (2012.6, 50, 2017.5, 54), (2013.0, 55, 2018.0, 58),
               (2013.8, 72, 2019.0, 66), (2014.3, 70, 2019.5, 65), (2014.8, 74, 2020.5, 66),
               (2015.3, 68, 2021.0, 64), (2015.8, 63, 2021.5, 63), (2016.3, 57, 2021.5, 59),
               (2016.8, 60, 2022.0, 60), (2017.3, 67, 2022.5, 63), (2017.8, 70, 2023.0, 64),
               (2018.3, 67, 2023.5, 63), (2018.8, 64, 2024.0, 62), (2019.3, 61, 2024.5, 61),
               (2019.8, 62, 2025.0, 60)]

chf_dem_fwd = [(1990.0, .90, 1995.0, .86), (1990.5, .87, 1995.5, .85), (1991.0, .85, 1996.0, .84),
               (1991.5, .86, 1996.5, .86), (1992.0, .90, 1997.0, .87), (1992.5, .89, 1997.5, .86),
               (1993.0, .93, 1998.0, .89), (1993.5, .88, 1998.5, .85), (1994.0, .86, 1999.0, .85),
               (1994.5, .84, 1999.5, .85), (1995.0, .83, 2000.0, .84), (1995.5, .85, 2000.5, .85),
               (1996.0, .81, 2001.0, .83), (1996.5, .83, 2001.5, .84), (1997.0, .86, 2002.0, .85),
               (1997.5, .82, 2002.5, .83), (1998.0, .81, 2003.0, .82), (1999.0, .82, 2004.0, .80),
               (1999.5, .82, 2004.5, .80), (2000.0, .80, 2005.0, .79), (2000.5, .79, 2005.5, .78),
               (2001.0, .775, 2006.0, .78), (2001.5, .76, 2006.5, .785), (2002.0, .75, 2007.0, .79),
               (2002.5, .745, 2007.5, .78), (2003.0, .76, 2008.0, .795), (2003.5, .78, 2008.5, .80),
               (2004.0, .785, 2009.0, .80), (2004.5, .79, 2009.5, .79), (2005.0, .79, 2010.0, .81),
               (2005.5, .79, 2010.5, .80), (2006.0, .80, 2011.0, .82), (2006.5, .81, 2011.5, .81),
               (2007.0, .83, 2012.0, .82), (2007.4, .85, 2012.5, .83), (2008.0, .82, 2013.0, .80),
               (2008.5, .80, 2013.5, .78), (2009.0, .77, 2014.0, .775), (2009.5, .73, 2014.3, .71),
               (2010.0, .70, 2014.0, .70), (2010.4, .67, 2014.5, .655), (2010.8, .63, 2015.0, .645),
               (2011.2, .60, 2015.0, .62), (2011.5, .63, 2016.5, .63), (2012.0, .62, 2017.0, .63),
               (2012.5, .62, 2017.5, .625), (2013.0, .62, 2018.0, .62), (2013.5, .62, 2018.5, .62),
               (2014.0, .62, 2019.0, .61), (2014.5, .615, 2019.5, .60), (2015.0, .535, 2020.0, .485),
               (2015.2, .54, 2020.0, .49), (2015.5, .555, 2020.5, .56), (2016.0, .56, 2021.0, .555),
               (2016.5, .55, 2021.5, .55), (2017.0, .56, 2022.0, .545), (2017.5, .58, 2022.5, .60),
               (2018.0, .60, 2023.0, .605), (2018.5, .58, 2023.5, .59), (2019.0, .57, 2024.0, .575),
               (2019.5, .56, 2024.5, .555), (2020.0, .555, 2025.0, .54)]

# title, spot, forwards, y range, y step, label style, title x (axes frac), curve bend
panels = [
    ("DEM/USD", dem_usd_spot, dem_usd_fwd, (1.2, 2.4), 0.2, "1f", 0.61, 0.8),
    ("GBP/USD", gbp_usd_spot, gbp_usd_fwd, (0.45, 0.85), 0.05, "p2", 0.45, 0.8),
    ("JPY/USD", jpy_usd_spot, jpy_usd_fwd, (70, 160), 10, "0f", 0.466, 0.7),
    ("CHF/USD", chf_usd_spot, chf_usd_fwd, (0.6, 2.0), 0.2, "1f", 0.446, 0.7),
    ("CAD/USD", cad_usd_spot, cad_usd_fwd, (0.9, 1.7), 0.1, "1f", 0.45, 0.7),
    ("AUD/USD", aud_usd_spot, aud_usd_fwd, (0.8, 2.2), 0.2, "1f", 0.206, 0.4),
    ("NZD/USD", nzd_usd_spot, nzd_usd_fwd, (1.0, 2.6), 0.2, "1f", 0.565, 0.6),
    ("NOK/USD", nok_usd_spot, nok_usd_fwd, (5, 10), 1, "0f", 0.455, 0.7),
    ("SEK/USD", sek_usd_spot, sek_usd_fwd, (4, 11), 1, "0f", 0.188, 0.6),
    ("GBP/DEM", gbp_dem_spot, gbp_dem_fwd, (0.28, 0.52), 0.04, "p2", 0.458, 0.5),
    ("JPY/DEM", jpy_dem_spot, jpy_dem_fwd, (40, 100), 10, "0f", 0.443, 0.3),
    ("CHF/DEM", chf_dem_spot, chf_dem_fwd, (0.4, 1.0), 0.1, "1f", 0.455, 0.5),
]


def fmt_label(v, style):
    if style == "p2":
        return f"{v:.2f}".lstrip("0")
    if style == "1f":
        return f"{v:.1f}"
    return f"{v:.0f}"


W, H = 797, 825
fig = plt.figure(figsize=(W / 100, H / 100), dpi=100)
col_left = [30, 296, 563]
row_top = [17, 222, 429, 633]
ax_w, ax_h = 203, 154
label_col = "#3a3a3a"

for i, (title, spot, fwd, ylim, step, style, tx, bend) in enumerate(panels):
    r, c = divmod(i, 3)
    ax = fig.add_axes([col_left[c] / W, 1 - (row_top[r] + ax_h) / H, ax_w / W, ax_h / H])

    t, v = zip(*spot)
    ax.plot(t, v, color="#0000ff", lw=2.3, zorder=2, solid_joinstyle="miter")

    for t0, v0, t1, v1 in fwd:
        cx = t0 + (t1 - t0) * 0.35
        cy = v0 + (v1 - v0) * (0.35 + 0.65 * bend)
        path = Path([(t0, v0), (cx, cy), (t1, v1)], [Path.MOVETO, Path.CURVE3, Path.CURVE3])
        ax.add_patch(PathPatch(path, fill=False, edgecolor="#ff0000", lw=0.7, zorder=3))

    ax.set_xlim(1988.3, 2025.5)
    ax.set_ylim(*ylim)
    yt = np.round(np.arange(ylim[0], ylim[1] + step / 2, step), 4)
    ax.set_yticks(yt)
    ax.set_yticklabels([fmt_label(y, style) for y in yt])
    xt = list(range(1990, 2026, 5))
    ax.set_xticks(xt)
    ax.set_xticklabels([f"{x % 100:02d}" for x in xt])

    ax.grid(True, color="#d9d9d9", lw=0.8, zorder=0)
    ax.set_axisbelow(True)
    for s in ax.spines.values():
        s.set_visible(False)
    ax.tick_params(axis="y", left=False, right=True, labelleft=True, labelright=True,
                   length=3, width=0.6, color="#a6a6a6", labelsize=7.5, labelcolor=label_col, pad=2)
    ax.tick_params(axis="x", bottom=False, labelsize=7.5, labelcolor=label_col, pad=3)

    ax.text(tx, 0.915, title, transform=ax.transAxes, ha="center", va="center",
            fontsize=11.5, color="black", zorder=5)

fig.savefig("out.png", dpi=100)
